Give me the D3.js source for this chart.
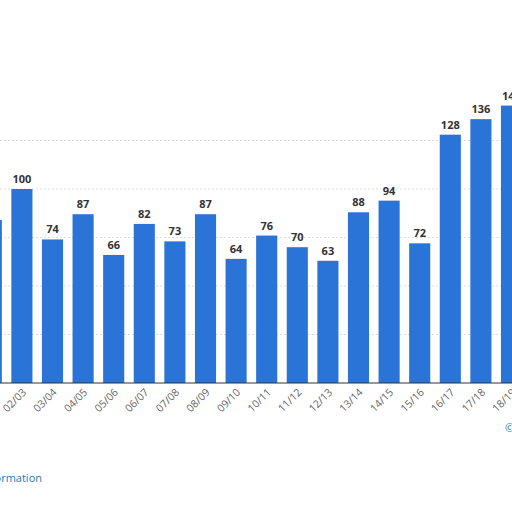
<!DOCTYPE html>
<html><head><meta charset="utf-8">
<script src="https://cdn.jsdelivr.net/npm/d3@7"></script>
<style>body{margin:0;background:#fff}svg{display:block;font-family:"Open Sans",sans-serif}</style>
</head><body>
<script>
const seasons = ["01/02","02/03","03/04","04/05","05/06","06/07","07/08","08/09","09/10","10/11","11/12","12/13","13/14","14/15","15/16","16/17","17/18","18/19"];
const values = [84,100,74,87,66,82,73,87,64,76,70,63,88,94,72,128,136,143];
const gridTicks = [25,50,75,100,125];

const W = 512, H = 512, base = 383;
const svg = d3.select("body").append("svg").attr("width", W).attr("height", H);

const x = d3.scaleBand().domain(seasons).range([-24, -24 + 18 * 30.6])
    .paddingInner(0.31).paddingOuter(0.155);
const y = d3.scaleLinear().domain([0, 100]).range([base, 189]);

svg.append("g")
    .attr("stroke", "#ddd").attr("stroke-dasharray", "2,2")
  .selectAll("line").data(gridTicks).join("line")
    .attr("x1", 0).attr("x2", W)
    .attr("y1", d => y(d)).attr("y2", d => y(d));

svg.append("g").attr("fill", "#2a74d8")
  .selectAll("rect").data(values).join("rect")
    .attr("x", (d, i) => x(seasons[i]))
    .attr("width", x.bandwidth())
    .attr("y", d => y(d))
    .attr("height", d => base - y(d));

// the first season's label is covered in the reference
svg.append("g")
    .attr("font-size", 11).attr("font-weight", "bold").attr("fill", "#333")
    .attr("text-anchor", "middle")
  .selectAll("text").data(values.slice(1)).join("text")
    .attr("x", (d, i) => x(seasons[i + 1]) + x.bandwidth() / 2)
    .attr("y", d => y(d) - 6)
    .text(d => d);

svg.append("line").attr("x1", 0).attr("x2", W)
    .attr("y1", base).attr("y2", base).attr("stroke", "#333");

svg.append("g")
    .attr("font-size", 10.5).attr("fill", "#666").attr("text-anchor", "end")
  .selectAll("text").data(seasons.slice(1)).join("text")
    .attr("transform", d => `translate(${x(d) + x.bandwidth() / 2 + 5},${base + 10}) rotate(-45)`)
    .text(d => d);

svg.append("text").attr("x", 42).attr("y", 482).attr("text-anchor", "end")
    .attr("font-size", 11).attr("fill", "#1f7ab8").text("Additional Information");

svg.append("text").attr("x", 505).attr("y", 432)
    .attr("font-size", 11).attr("fill", "#1f7ab8").text("©");
</script>
</body></html>
